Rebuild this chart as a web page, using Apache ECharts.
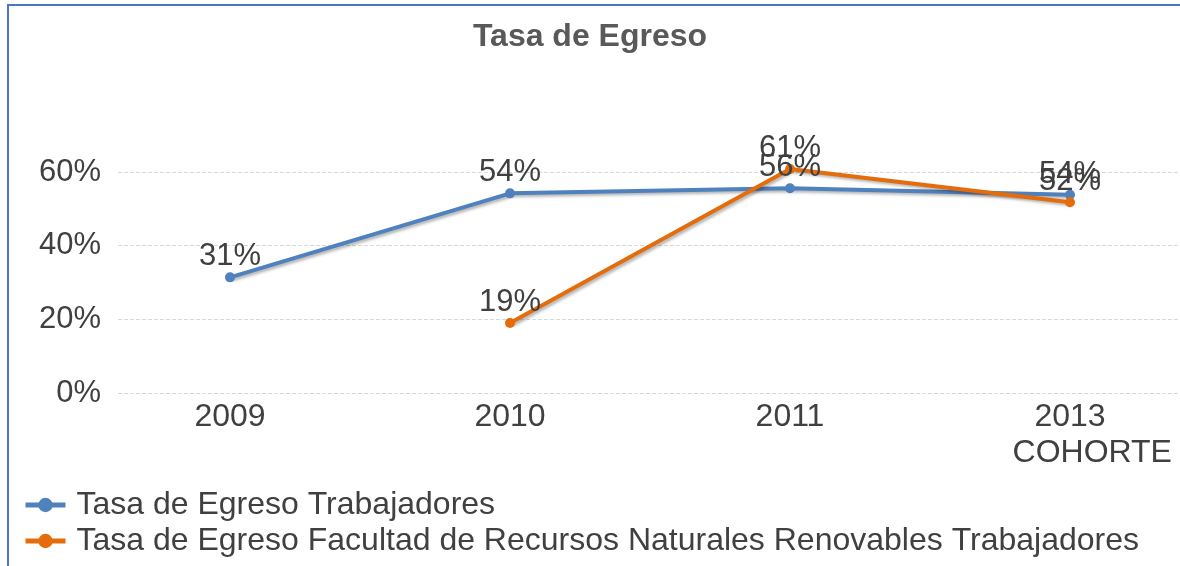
<!DOCTYPE html>
<html>
<head>
<meta charset="utf-8">
<script src="https://cdn.jsdelivr.net/npm/echarts@6/dist/echarts.min.js"></script>
<style>
  html, body { margin: 0; padding: 0; background: #fff; }
  #wrap { position: relative; width: 1180px; height: 566px; overflow: hidden; }
  #frame { position: absolute; left: 7px; top: 4px; right: 0; bottom: 0;
           border-top: 2px solid #4a76c8; border-left: 2px solid #4a76c8; }
  #chart { position: absolute; left: 0; top: 0; width: 1180px; height: 566px; }
</style>
</head>
<body>
<div id="wrap">
  <div id="frame"></div>
  <div id="chart"></div>
</div>
<script>
  var categories = ['2009', '2010', '2011', '2013\n     COHORTE'];
  var seriesNames = ['Tasa de Egreso Trabajadores', 'Tasa de Egreso Facultad de Recursos Naturales Renovables Trabajadores'];
  var trabajadores = [0.314, 0.542, 0.556, 0.538];
  var facultad = [null, 0.19, 0.608, 0.518];
  var yTicks = [0, 0.2, 0.4, 0.6];

  var font = '"Liberation Sans", Arial, sans-serif';
  var textColor = '#404040';
  var colors = ['#4f81bd', '#e46c0a'];

  function pct(v) {
    return Math.round(v * 100) + '%';
  }

  function lineSeries(name, data, color) {
    return {
      name: name,
      type: 'line',
      xAxisIndex: 1,
      yAxisIndex: 1,
      data: data,
      clip: false,
      symbol: 'circle',
      symbolSize: 10,
      itemStyle: { color: color },
      lineStyle: {
        color: color,
        width: 4,
        shadowColor: 'rgba(0,0,0,0.3)',
        shadowBlur: 3,
        shadowOffsetX: 2,
        shadowOffsetY: 2
      },
      label: {
        show: true,
        position: 'top',
        distance: 0,
        formatter: function(p) { return pct(p.value); },
        fontFamily: font,
        fontSize: 31,
        color: textColor
      }
    };
  }

  var chart = echarts.init(document.getElementById('chart'));
  chart.setOption({
    animation: false,
    title: {
      text: 'Tasa de Egreso',
      left: 'center',
      top: 16,
      textStyle: { fontFamily: font, fontSize: 32, fontWeight: 'bold', color: '#595959' }
    },
    legend: {
      orient: 'vertical',
      left: 18,
      top: 484,
      itemWidth: 40,
      itemHeight: 18,
      itemGap: 4,
      data: seriesNames,
      lineStyle: { width: 5 },
      textStyle: { fontFamily: font, fontSize: 32, color: textColor, padding: [0, 0, 0, 6] }
    },
    grid: [
      { left: 118, right: 2, top: 172, bottom: 173 },
      { left: 90, width: 1120, top: 172, bottom: 173, outerBoundsMode: 'none' }
    ],
    xAxis: [
      { gridIndex: 0, type: 'category', data: categories, show: false },
      {
        gridIndex: 1,
        type: 'category',
        data: categories,
        axisLine: { show: false },
        axisTick: { show: false },
        axisLabel: { margin: 6, fontFamily: font, fontSize: 32, lineHeight: 36, color: textColor }
      }
    ],
    yAxis: [
      {
        gridIndex: 0,
        type: 'value',
        min: yTicks[0],
        max: yTicks[yTicks.length - 1],
        interval: 0.2,
        axisLine: { show: false },
        axisTick: { show: false },
        axisLabel: { margin: 17, formatter: pct, fontFamily: font, fontSize: 31, color: textColor },
        splitLine: { lineStyle: { color: '#d9d9d9', type: 'dashed', width: 1 } }
      },
      {
        gridIndex: 1,
        type: 'value',
        min: yTicks[0],
        max: yTicks[yTicks.length - 1],
        interval: 0.2,
        show: false,
        splitLine: { show: false }
      }
    ],
    series: [
      lineSeries(seriesNames[0], trabajadores, colors[0]),
      lineSeries(seriesNames[1], facultad, colors[1])
    ]
  });
</script>
</body>
</html>
